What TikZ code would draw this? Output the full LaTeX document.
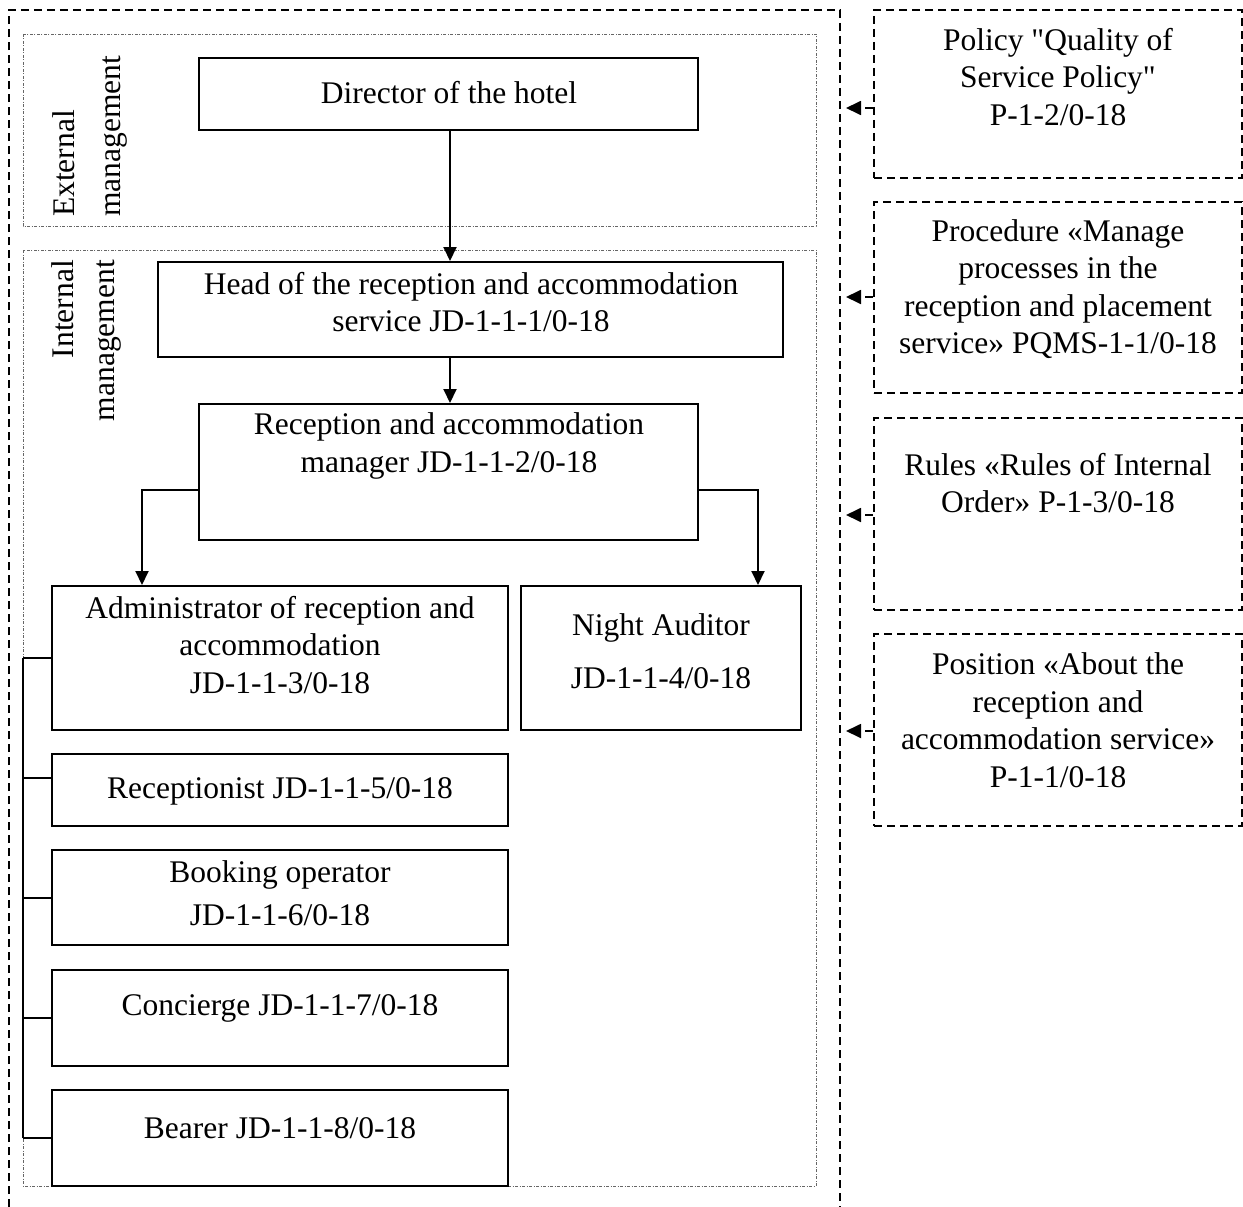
\documentclass[tikz,border=0pt]{standalone}
\usepackage{fontspec}
\setmainfont{Liberation Serif}[Ligatures=TeXOff]
\usetikzlibrary{arrows.meta}
\begin{document}
\begin{tikzpicture}[x=1pt,y=-1pt,
  box/.style={draw, line width=2pt, inner sep=0pt},
  dbox/.style={draw, line width=1.8pt, inner sep=0pt, dash pattern=on 8pt off 5pt},
  txt/.style={align=center, inner sep=0pt, font=\fontsize{31.5}{37.5}\selectfont},
  arr/.style={line width=2pt, -{Triangle[length=14pt,width=13pt]}},
  darr/.style={line width=1.8pt, dash pattern=on 8pt off 5pt, -{Triangle[length=15pt,width=14pt]}},
  frameline/.style={line width=1.8pt, dash pattern=on 8pt off 5pt},
  dotframe/.style={line width=0.8pt, gray!80!black, dash pattern=on 3pt off 1.5pt on 1pt off 1.5pt},
  brk/.style={line width=1.6pt}]
\useasboundingbox (0,0) rectangle (1243,1207);

% outer frame (open at the bottom)
\draw[frameline] (9,1207) -- (9,10) -- (840,10) -- (840,1207);
% inner dotted frames
\draw[dotframe] (23,34) rectangle (816,226);
\draw[dotframe] (23,250) rectangle (816,1186);

% rotated labels
\node[rotate=90, align=left, anchor=west, inner sep=0pt,
      font=\fontsize{31.5}{46}\selectfont] (ext) at (90,217) {External\\management};
\node[rotate=90, align=right, anchor=east, inner sep=0pt,
      font=\fontsize{31.5}{41}\selectfont] (int) at (86,260) {Internal\\management};

% boxes
\node[box, minimum width=499pt, minimum height=72pt] (dir) at (448.5,94) {};
\node[box, minimum width=625pt, minimum height=95pt] (head) at (470.5,309.5) {};
\node[box, minimum width=499pt, minimum height=136pt] (mgr) at (448.5,472) {};
\node[box, minimum width=456pt, minimum height=144pt] (adm) at (280,658) {};
\node[box, minimum width=280pt, minimum height=144pt] (night) at (661,658) {};
\node[box, minimum width=456pt, minimum height=72pt] (rec) at (280,790) {};
\node[box, minimum width=456pt, minimum height=95pt] (book) at (280,897.5) {};
\node[box, minimum width=456pt, minimum height=96pt] (conc) at (280,1018) {};
\node[box, minimum width=456pt, minimum height=96pt] (bear) at (280,1138) {};

\node[dbox, minimum width=368pt, minimum height=168pt] (pol) at (1058,94) {};
\node[dbox, minimum width=368pt, minimum height=191pt] (proc) at (1058,297.5) {};
\node[dbox, minimum width=368pt, minimum height=192pt] (rul) at (1058,514) {};
\node[dbox, minimum width=368pt, minimum height=192pt] (pos) at (1058,730) {};

% texts
\node[txt] (dirT) at (449,93) {Director of the hotel};
\node[txt] (headT) at (471,302) {Head of the reception and accommodation\\service JD-1-1-1/0-18};
\node[txt] (mgrT) at (449,446) {Reception and accommodation\\manager JD-1-1-2/0-18};
\node[txt] (admT) at (280,645) {Administrator of reception and\\accommodation\\JD-1-1-3/0-18};
\node[txt] (nightT) at (661,651) {Night Auditor\\[16pt]JD-1-1-4/0-18};
\node[txt] (recT) at (280,791) {Receptionist JD-1-1-5/0-18};
\node[txt] (bookT) at (280,893) {Booking operator\\[5pt]JD-1-1-6/0-18};
\node[txt] (concT) at (280,1008) {Concierge JD-1-1-7/0-18};
\node[txt] (bearT) at (280,1128) {Bearer JD-1-1-8/0-18};

\node[txt] (polT) at (1058,77) {Policy "Quality of\\Service Policy"\\P-1-2/0-18};
\node[txt] (procT) at (1058,289) {Procedure «Manage\\processes in the\\reception and placement\\service» PQMS-1-1/0-18};
\node[txt] (rulT) at (1058,483) {Rules «Rules of Internal\\Order» P-1-3/0-18};
\node[txt] (posT) at (1058,720) {Position «About the\\reception and\\accommodation service»\\P-1-1/0-18};

% solid connectors
\draw[arr] (dir.south -| 450,0) -- (head.north -| 450,0);
\draw[arr] (head.south -| 450,0) -- (mgr.north -| 450,0);
\draw[arr] ([yshift=-18pt]mgr.west) -| ([xshift=-138pt]adm.north);
\draw[arr] ([yshift=-18pt]mgr.east) -| ([xshift=97pt]night.north);

% dashed reference arrows
\coordinate (t1) at (846,108);
\coordinate (t2) at (846,297);
\coordinate (t3) at (846,515);
\coordinate (t4) at (846,731);
\draw[darr] (pol.west |- t1) -- (t1);
\draw[darr] (proc.west |- t2) -- (t2);
\draw[darr] (rul.west |- t3) -- (t3);
\draw[darr] (pos.west |- t4) -- (t4);

% left bracket
\coordinate (b1) at (23,658);
\coordinate (b2) at (23,778);
\coordinate (b3) at (23,898);
\coordinate (b4) at (23,1018);
\coordinate (b5) at (23,1138);
\draw[brk] (b1) -- (b5);
\draw[brk] (b1) -- (b1 -| adm.west);
\draw[brk] (b2) -- (b2 -| rec.west);
\draw[brk] (b3) -- (b3 -| book.west);
\draw[brk] (b4) -- (b4 -| conc.west);
\draw[brk] (b5) -- (b5 -| bear.west);
\end{tikzpicture}
\end{document}
